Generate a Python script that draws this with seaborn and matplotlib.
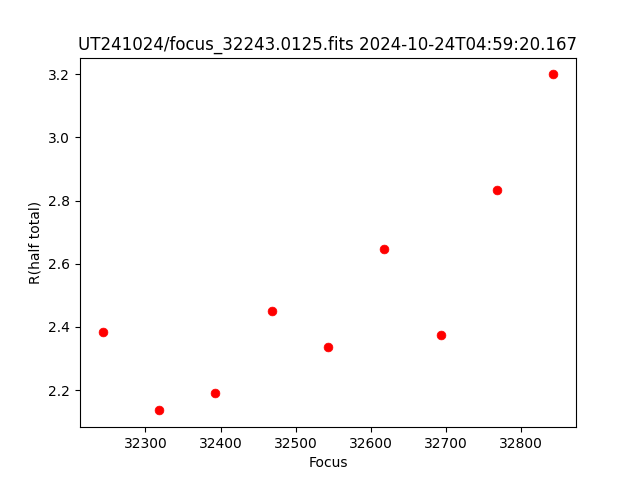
import matplotlib
matplotlib.use("Agg")
import matplotlib.pyplot as plt
import seaborn as sns

focus = [32243, 32318, 32393, 32468, 32543, 32618, 32693, 32768, 32843]
r_half = [2.383, 2.136, 2.190, 2.449, 2.338, 2.648, 2.376, 2.832, 3.199]

fig, ax = plt.subplots(figsize=(6.4, 4.8), dpi=100)
sns.scatterplot(x=focus, y=r_half, color="red", s=40, edgecolor="red", linewidth=0.5, ax=ax)
ax.set_title("UT241024/focus_32243.0125.fits 2024-10-24T04:59:20.167")
ax.set_xlabel("Focus")
ax.set_ylabel("R(half total)")
fig.savefig("out.png")
